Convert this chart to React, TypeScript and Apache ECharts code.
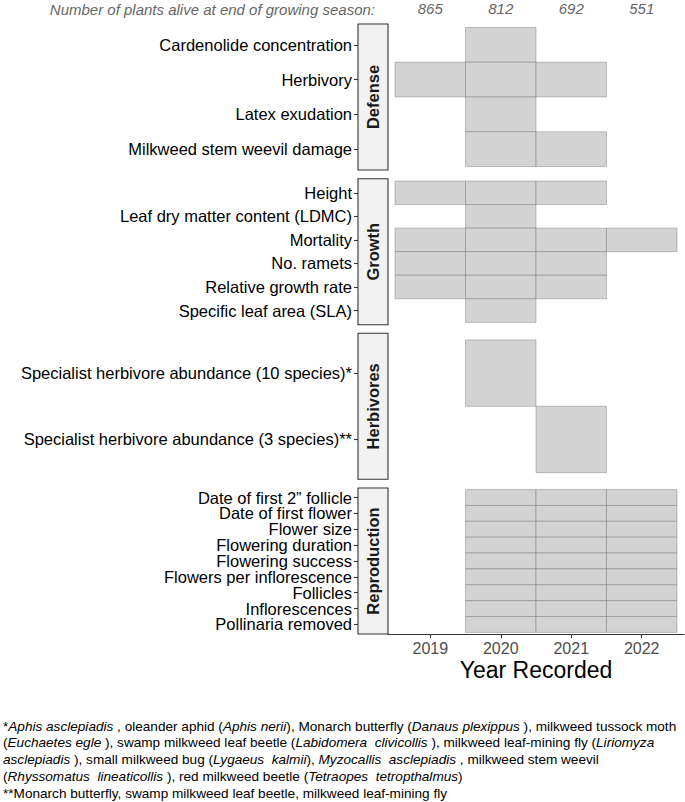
import React, { useEffect, useRef } from "react";
import * as echarts from "echarts";

// ---------- data ----------
const years = [2019, 2020, 2021, 2022];
const plantsAlive = ["865", "812", "692", "551"];
const panelNames = ["Defense", "Growth", "Herbivores", "Reproduction"];

const defenseTraits = [
  "Cardenolide concentration",
  "Herbivory",
  "Latex exudation",
  "Milkweed stem weevil damage",
];
const defenseYears = [[2020], [2019, 2020, 2021], [2020], [2020, 2021]];

const growthTraits = [
  "Height",
  "Leaf dry matter content (LDMC)",
  "Mortality",
  "No. ramets",
  "Relative growth rate",
  "Specific leaf area (SLA)",
];
const growthYears = [
  [2019, 2020, 2021],
  [2020],
  [2019, 2020, 2021, 2022],
  [2019, 2020, 2021],
  [2019, 2020, 2021],
  [2020],
];

const herbivoreTraits = [
  "Specialist herbivore abundance (10 species)*",
  "Specialist herbivore abundance (3 species)**",
];
const herbivoreYears = [[2020], [2021]];

const reproductionTraits = [
  "Date of first 2\u201D follicle",
  "Date of first flower",
  "Flower size",
  "Flowering duration",
  "Flowering success",
  "Flowers per inflorescence",
  "Follicles",
  "Inflorescences",
  "Pollinaria removed",
];
const reproductionYears = [
  [2020, 2021, 2022],
  [2020, 2021, 2022],
  [2020, 2021, 2022],
  [2020, 2021, 2022],
  [2020, 2021, 2022],
  [2020, 2021, 2022],
  [2020, 2021, 2022],
  [2020, 2021, 2022],
  [2020, 2021, 2022],
];

const headerText = "Number of plants alive at end of growing season:";
const xTitle = "Year Recorded";
const footnoteLines = [
  "*{i|Aphis asclepiadis} , oleander aphid ({i|Aphis nerii}), Monarch butterfly ({i|Danaus plexippus} ), milkweed tussock moth",
  "({i|Euchaetes egle} ), swamp milkweed leaf beetle ({i|Labidomera  clivicollis} ), milkweed leaf-mining fly ({i|Liriomyza}",
  "{i|asclepiadis} ), small milkweed bug ({i|Lygaeus  kalmii}), {i|Myzocallis  asclepiadis} , milkweed stem weevil",
  "({i|Rhyssomatus  lineaticollis} ), red milkweed beetle ({i|Tetraopes  tetropthalmus})",
  "**Monarch butterfly, swamp milkweed leaf beetle, milkweed leaf-mining fly",
];

// ---------- layout ----------
const FONT = "'Liberation Sans', Arial, Helvetica, sans-serif";
const GRID_LEFT = 388;
const GRID_W = 296;
const PANEL_TOPS = [24, 178.7, 333.3, 488];
const PANEL_H = 146;
const STRIP_W = 30;
const X_MIN = 2018.4;
const X_MAX = 2022.6;
const FOOT_SIZE = 13.6;

const panels = [
  { name: panelNames[0], traits: defenseTraits, yrs: defenseYears },
  { name: panelNames[1], traits: growthTraits, yrs: growthYears },
  { name: panelNames[2], traits: herbivoreTraits, yrs: herbivoreYears },
  { name: panelNames[3], traits: reproductionTraits, yrs: reproductionYears },
];

export default function App() {
  const ref = useRef<HTMLDivElement>(null);

  useEffect(() => {
    if (!ref.current) return;
    const chart = echarts.init(ref.current, undefined, { renderer: "svg" });

    const grid = PANEL_TOPS.map((t) => ({
      left: GRID_LEFT,
      top: t,
      width: GRID_W,
      height: PANEL_H,
    }));

    const xAxis: any[] = panels.map((p, i) => ({
      type: "value",
      gridIndex: i,
      min: X_MIN,
      max: X_MAX,
      show: i === 3,
      position: "bottom",
      axisLine: { show: true, onZero: false, lineStyle: { color: "#333", width: 1.1 } },
      axisTick: {
        show: true,
        length: 4,
        customValues: years,
        lineStyle: { color: "#333", width: 1.1 },
      },
      axisLabel: {
        customValues: years,
        formatter: (v: number) => String(v),
        color: "#4d4d4d",
        fontSize: 16,
        fontFamily: FONT,
        margin: 6,
        showMinLabel: true,
        showMaxLabel: true,
        hideOverlap: false,
      },
      splitLine: { show: false },
      name: i === 3 ? xTitle : "",
      nameLocation: "middle",
      nameGap: 24,
      nameTextStyle: { fontSize: 23, color: "#000", fontFamily: FONT },
    }));
    xAxis.push({
      type: "value",
      gridIndex: 0,
      position: "top",
      min: X_MIN,
      max: X_MAX,
      axisLine: { show: false, onZero: false },
      axisTick: { show: false },
      splitLine: { show: false },
      axisLabel: {
        customValues: years,
        formatter: (v: number) => plantsAlive[years.indexOf(v)] ?? "",
        fontStyle: "italic",
        color: "#666",
        fontSize: 15,
        fontFamily: FONT,
        margin: 8,
        showMinLabel: true,
        showMaxLabel: true,
      },
    });

    // Two y axes per panel (even / odd rows) so that no label is auto-hidden
    const yAxis: any[] = [];
    panels.forEach((p, i) => {
      const idx = p.traits.map((_, k) => k);
      [0, 1].forEach((parity) => {
        const labelIdx = idx.filter((k) => k % 2 === parity);
        yAxis.push({
          type: "value",
          gridIndex: i,
          inverse: true,
          min: -0.6,
          max: p.traits.length - 0.4,
          position: "left",
          offset: STRIP_W,
          axisLine: { show: false, onZero: false },
          axisTick: {
            show: parity === 0,
            length: 4,
            customValues: idx,
            lineStyle: { color: "#333", width: 1.1 },
          },
          axisLabel: {
            show: labelIdx.length > 0,
            customValues: labelIdx.length > 0 ? labelIdx : [0],
            formatter: (v: number) => p.traits[Math.round(v)] ?? "",
            color: "#000",
            fontSize: 16.5,
            fontFamily: FONT,
            margin: 6,
            showMinLabel: true,
            showMaxLabel: true,
            hideOverlap: false,
          },
          splitLine: { show: false },
        });
      });
    });

    const series = panels.map((p, i) => {
      const data: number[][] = [];
      p.yrs.forEach((ys, k) => ys.forEach((y) => data.push([y, k])));
      return {
        type: "custom",
        xAxisIndex: i,
        yAxisIndex: 2 * i,
        data,
        renderItem: (params: any, api: any) => {
          const c = api.coord([api.value(0), api.value(1)]);
          const s = api.size([1, 1]);
          const w = Math.abs(s[0]);
          const h = Math.abs(s[1]);
          return {
            type: "rect",
            shape: { x: c[0] - w / 2, y: c[1] - h / 2, width: w, height: h },
            style: {
              fill: "#d3d3d3",
              stroke: "rgba(110,110,110,0.4)",
              lineWidth: 1,
            },
          };
        },
      };
    });

    const graphic: any[] = [];
    panels.forEach((p, i) => {
      const t = PANEL_TOPS[i];
      graphic.push({
        type: "rect",
        shape: { x: GRID_LEFT - STRIP_W, y: t, width: STRIP_W, height: PANEL_H },
        style: { fill: "#f2f2f2", stroke: "#333", lineWidth: 1.1 },
      });
      graphic.push({
        type: "text",
        x: GRID_LEFT - STRIP_W / 2,
        y: t + PANEL_H / 2,
        rotation: Math.PI / 2,
        style: {
          text: p.name,
          font: `bold 16.5px ${FONT}`,
          fill: "#1a1a1a",
          align: "center",
          verticalAlign: "middle",
        },
      });
    });
    graphic.push({
      type: "text",
      x: 375,
      y: 9,
      style: {
        text: headerText,
        font: `italic 15px ${FONT}`,
        fill: "#666",
        align: "right",
        verticalAlign: "middle",
      },
    });
    footnoteLines.forEach((line, k) => {
      graphic.push({
        type: "text",
        x: 3,
        y: 726 + k * 16.8,
        style: {
          text: line,
          font: `${FOOT_SIZE}px ${FONT}`,
          fill: "#000",
          align: "left",
          verticalAlign: "middle",
          rich: {
            i: { fontStyle: "italic", fontSize: FOOT_SIZE, fontFamily: FONT, fill: "#000" },
          },
        },
      });
    });

    chart.setOption({
      animation: false,
      backgroundColor: "#fff",
      grid,
      xAxis,
      yAxis,
      series,
      graphic,
    });

    return () => chart.dispose();
  }, []);

  return (
    <div
      ref={ref}
      style={{ position: "absolute", left: 0, top: 0, width: 685, height: 802 }}
    />
  );
}
